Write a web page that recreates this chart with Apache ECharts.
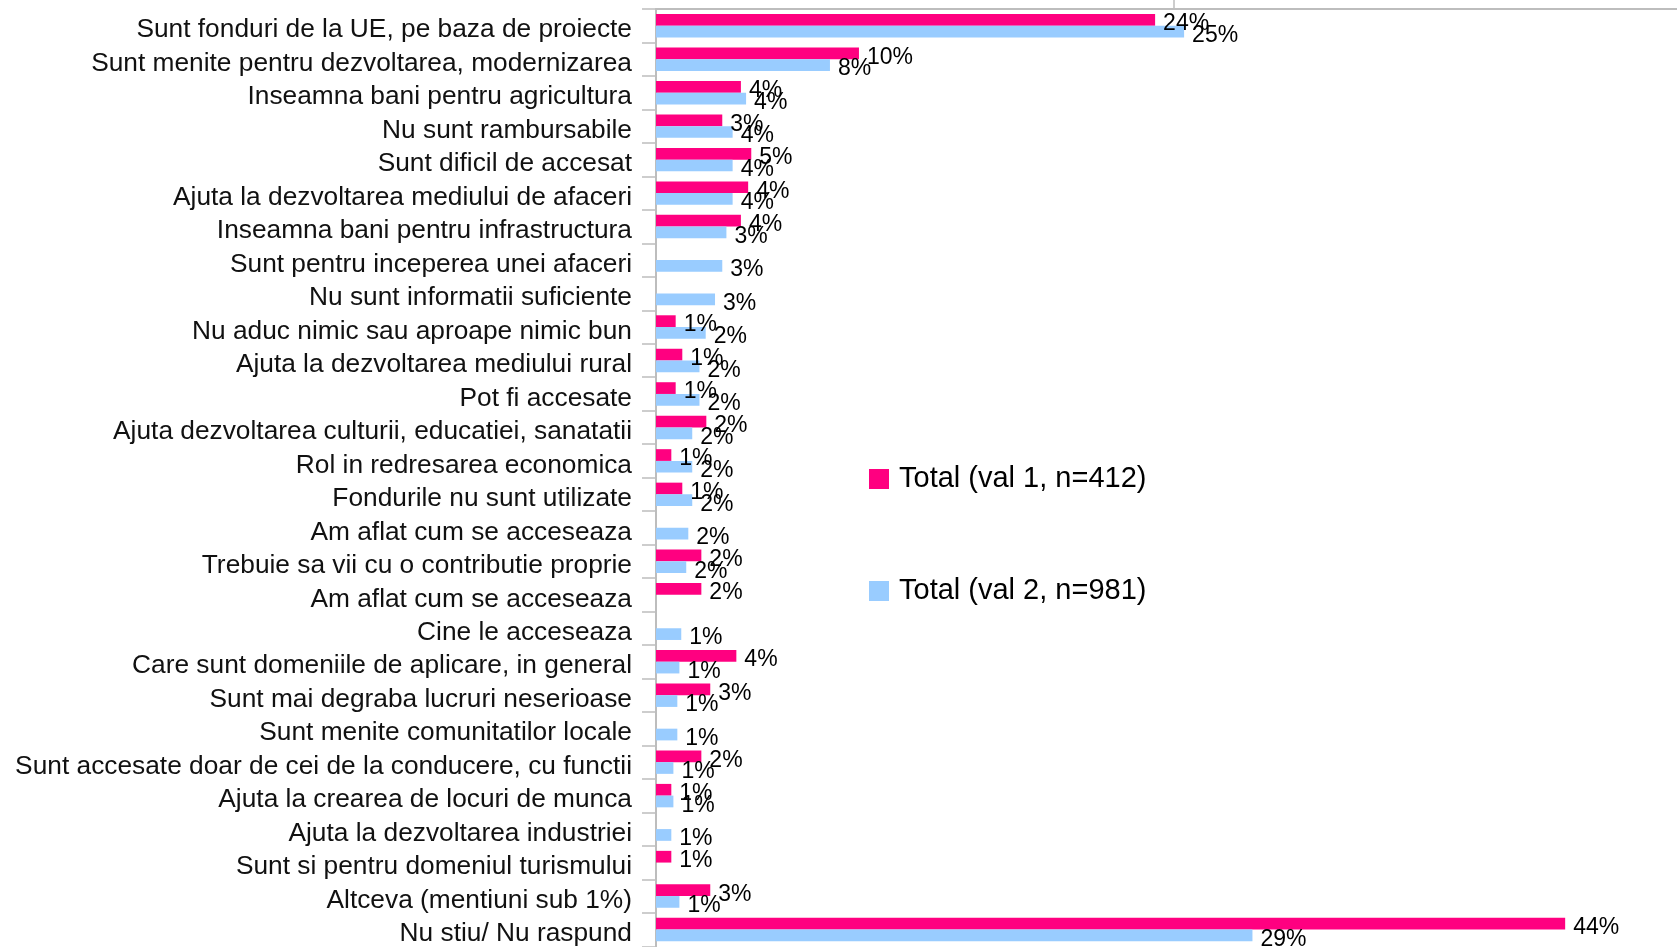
<!DOCTYPE html>
<html>
<head>
<meta charset="utf-8">
<script src="https://cdn.jsdelivr.net/npm/echarts@6/dist/echarts.min.js"></script>
<style>
  html, body { margin: 0; padding: 0; background: #ffffff; }
  #chart { width: 1677px; height: 947px; }
</style>
</head>
<body>
<div id="chart"></div>
<script>
const categories = [
  "Sunt fonduri de la UE, pe baza de proiecte",
  "Sunt menite pentru dezvoltarea, modernizarea",
  "Inseamna bani pentru agricultura",
  "Nu sunt rambursabile",
  "Sunt dificil de accesat",
  "Ajuta la dezvoltarea mediului de afaceri",
  "Inseamna bani pentru infrastructura",
  "Sunt pentru inceperea unei afaceri",
  "Nu sunt informatii suficiente",
  "Nu aduc nimic sau aproape nimic bun",
  "Ajuta la dezvoltarea mediului rural",
  "Pot fi accesate",
  "Ajuta dezvoltarea culturii, educatiei, sanatatii",
  "Rol in redresarea economica",
  "Fondurile nu sunt utilizate",
  "Am aflat cum se acceseaza",
  "Trebuie sa vii cu o contributie proprie",
  "Am aflat cum se acceseaza",
  "Cine le acceseaza",
  "Care sunt domeniile de aplicare, in general",
  "Sunt mai degraba lucruri neserioase",
  "Sunt menite comunitatilor locale",
  "Sunt accesate doar de cei de la conducere, cu functii",
  "Ajuta la crearea de locuri de munca",
  "Ajuta la dezvoltarea industriei",
  "Sunt si pentru domeniul turismului",
  "Altceva (mentiuni sub 1%)",
  "Nu stiu/ Nu raspund"
];

const seriesNames = ["Total (val 1, n=412)", "Total (val 2, n=981)"];

// bar lengths (percent)
const val1 = [24.1, 9.8, 4.1, 3.2, 4.6, 4.45, 4.1, null, null, 0.95, 1.27, 0.95, 2.43, 0.74, 1.27, null, 2.19, 2.19, null, 3.88, 2.62, null, 2.19, 0.74, null, 0.74, 2.62, 43.9];
const val2 = [25.5, 8.4, 4.35, 3.7, 3.7, 3.7, 3.4, 3.2, 2.85, 2.4, 2.1, 2.1, 1.75, 1.75, 1.75, 1.56, 1.46, null, 1.22, 1.13, 1.03, 1.03, 0.84, 0.84, 0.74, null, 1.13, 28.8];

// printed data labels
const labels1 = ["24%", "10%", "4%", "3%", "5%", "4%", "4%", "", "", "1%", "1%", "1%", "2%", "1%", "1%", "", "2%", "2%", "", "4%", "3%", "", "2%", "1%", "", "1%", "3%", "44%"];
const labels2 = ["25%", "8%", "4%", "4%", "4%", "4%", "3%", "3%", "3%", "2%", "2%", "2%", "2%", "2%", "2%", "2%", "2%", "", "1%", "1%", "1%", "1%", "1%", "1%", "1%", "", "1%", "29%"];

// value axis: visible range (cropped at the right edge) and its tick
const valueMin = 0;
const valueMax = 49.3;
const valueInterval = 25;
const valueTicks = [25];

const colors = ["#FF0080", "#99CCFF"];
const axisGray = "#bdbdbd";
const font = "'Liberation Sans', Arial, sans-serif";

const chart = echarts.init(document.getElementById('chart'), null, { renderer: 'canvas' });

function labelCfg(arr) {
  return {
    show: true,
    position: 'right',
    distance: 8,
    offset: [0, 4],
    color: '#000000',
    fontFamily: font,
    fontSize: 23,
    formatter: p => arr[p.dataIndex]
  };
}

chart.setOption({
  animation: false,
  backgroundColor: '#ffffff',
  color: colors,
  grid: { left: 656, top: 9, right: 0, height: 938, containLabel: false },
  legend: {
    orient: 'vertical',
    left: 864,
    top: 456,
    icon: 'rect',
    itemWidth: 20,
    itemHeight: 20,
    itemGap: 76,
    textStyle: { fontFamily: font, fontSize: 29, color: '#000000', lineHeight: 36, padding: [0, 0, 0, 5] },
    data: seriesNames
  },
  xAxis: {
    type: 'value',
    position: 'top',
    min: valueMin,
    max: valueMax,
    interval: valueInterval,
    axisLine: { show: true, lineStyle: { color: axisGray, width: 2 } },
    axisTick: { show: true, inside: false, length: 9, customValues: valueTicks, lineStyle: { color: axisGray, width: 1.5 } },
    axisLabel: { show: false },
    splitLine: { show: false }
  },
  yAxis: {
    type: 'category',
    inverse: true,
    data: categories,
    axisLine: { show: true, lineStyle: { color: axisGray, width: 2 } },
    axisTick: { show: true, length: 14, lineStyle: { color: axisGray, width: 1.5 } },
    axisLabel: {
      margin: 24,
      color: '#111111',
      fontFamily: font,
      fontSize: 26.3,
      verticalAlign: 'top',
      lineHeight: 9,
      interval: 0
    }
  },
  series: [
    {
      name: seriesNames[0],
      type: 'bar',
      data: val1,
      barGap: '0%',
      barCategoryGap: '30%',
      itemStyle: { color: colors[0] },
      label: labelCfg(labels1),
      z: 2
    },
    {
      name: seriesNames[1],
      type: 'bar',
      data: val2,
      barGap: '0%',
      barCategoryGap: '30%',
      itemStyle: { color: colors[1] },
      label: labelCfg(labels2),
      z: 2
    }
  ]
});
</script>
</body>
</html>
